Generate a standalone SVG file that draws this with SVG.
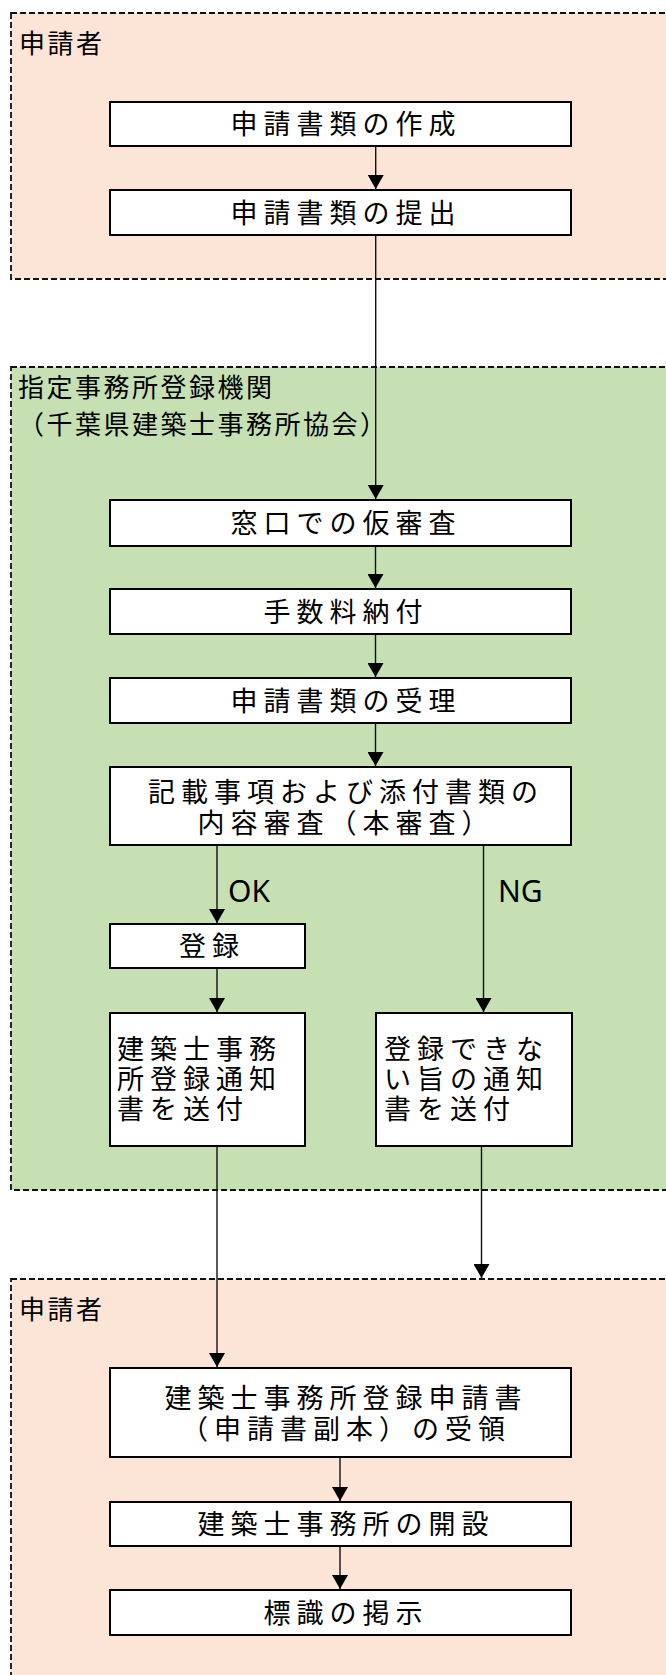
<svg xmlns="http://www.w3.org/2000/svg" width="666" height="1675" viewBox="0 0 666 1675">
<style>
.grp-a{fill:#FCE4D6;stroke:#111;stroke-width:1.8;stroke-dasharray:6 3}
.grp-b{fill:#C6E0B4;stroke:#111;stroke-width:1.8;stroke-dasharray:6 3}
.box{fill:#fff;stroke:#000;stroke-width:2}
.t{font-family:"Noto Sans CJK JP","Noto Sans",sans-serif;font-size:27px;fill:#000;letter-spacing:6px}
.tc{text-anchor:middle}
.lbl{font-family:"Noto Sans CJK JP","Noto Sans",sans-serif;font-size:26px;fill:#000;letter-spacing:2.5px}
.ok{font-family:"Noto Sans","Noto Sans CJK JP",sans-serif;font-size:30px;fill:#000}
.c{fill:none;stroke:#111;stroke-width:1.4}
</style>
<defs>
<marker id="ah" markerUnits="userSpaceOnUse" markerWidth="16" markerHeight="16" refX="14" refY="8" orient="auto">
<path d="M0,0 L14,8 L0,16 z" fill="#000"/>
</marker>
</defs>

<g id="group-applicant-1">
<rect class="grp-a" x="11" y="13" width="700" height="266"/>
<text class="lbl" x="19" y="53">申請者</text>
</g>
<g id="group-registry">
<rect class="grp-b" x="11" y="367" width="700" height="823"/>
<text class="lbl" x="18" y="397">指定事務所登録機関</text>
<text class="lbl" x="18" y="434">（千葉県建築士事務所協会）</text>
</g>
<g id="group-applicant-2">
<rect class="grp-a" x="11" y="1279" width="700" height="440"/>
<text class="lbl" x="19" y="1319">申請者</text>
</g>

<g id="n1"><rect class="box" x="110" y="102" width="461" height="44"/><text class="t tc" x="346" y="134">申請書類の作成</text></g>
<g id="n2"><rect class="box" x="110" y="190" width="461" height="45"/><text class="t tc" x="346" y="222.5">申請書類の提出</text></g>
<g id="n3"><rect class="box" x="110" y="500" width="461" height="46"/><text class="t tc" x="346" y="533">窓口での仮審査</text></g>
<g id="n4"><rect class="box" x="110" y="589" width="461" height="45"/><text class="t tc" x="346" y="621.5">手数料納付</text></g>
<g id="n5"><rect class="box" x="110" y="678" width="461" height="45"/><text class="t tc" x="346" y="710.5">申請書類の受理</text></g>
<g id="n6"><rect class="box" x="110" y="767" width="461" height="78"/>
<text class="t tc" x="346" y="802">記載事項および添付書類の</text>
<text class="t tc" x="346" y="833">内容審査（本審査）</text></g>
<g id="n7"><rect class="box" x="110" y="924" width="195" height="44"/><text class="t tc" x="212" y="956">登録</text></g>
<g id="n8"><rect class="box" x="110" y="1013" width="195" height="133"/>
<text class="t" x="117" y="1059">建築士事務</text>
<text class="t" x="117" y="1089">所登録通知</text>
<text class="t" x="117" y="1119">書を送付</text></g>
<g id="n9"><rect class="box" x="376" y="1013" width="196" height="133"/>
<text class="t" x="384" y="1059">登録できな</text>
<text class="t" x="384" y="1089">い旨の通知</text>
<text class="t" x="384" y="1119">書を送付</text></g>
<g id="n10"><rect class="box" x="110" y="1368" width="461" height="89"/>
<text class="t tc" x="346" y="1408">建築士事務所登録申請書</text>
<text class="t tc" x="346" y="1439">（申請書副本）の受領</text></g>
<g id="n11"><rect class="box" x="110" y="1502" width="461" height="44"/><text class="t tc" x="346" y="1534">建築士事務所の開設</text></g>
<g id="n12"><rect class="box" x="110" y="1590" width="461" height="45"/><text class="t tc" x="346" y="1622.5">標識の掲示</text></g>

<g id="connectors">
<line class="c" x1="375.7" y1="147" x2="375.7" y2="189" marker-end="url(#ah)"/>
<line class="c" x1="375.7" y1="236" x2="375.7" y2="499" marker-end="url(#ah)"/>
<line class="c" x1="375.5" y1="547" x2="375.5" y2="588" marker-end="url(#ah)"/>
<line class="c" x1="375.5" y1="635" x2="375.5" y2="677" marker-end="url(#ah)"/>
<line class="c" x1="375.5" y1="724" x2="375.5" y2="766" marker-end="url(#ah)"/>
<line class="c" x1="217" y1="846" x2="217" y2="923" marker-end="url(#ah)"/>
<line class="c" x1="483.5" y1="846" x2="483.5" y2="1012" marker-end="url(#ah)"/>
<line class="c" x1="217" y1="969" x2="217" y2="1012" marker-end="url(#ah)"/>
<line class="c" x1="217" y1="1147" x2="217" y2="1367" marker-end="url(#ah)"/>
<line class="c" x1="481.5" y1="1147" x2="481.5" y2="1278" marker-end="url(#ah)"/>
<line class="c" x1="340" y1="1458" x2="340" y2="1501" marker-end="url(#ah)"/>
<line class="c" x1="340" y1="1547" x2="340" y2="1589" marker-end="url(#ah)"/>
<text class="ok" x="228" y="902">OK</text>
<text class="ok" x="498" y="902">NG</text>
</g>
</svg>
